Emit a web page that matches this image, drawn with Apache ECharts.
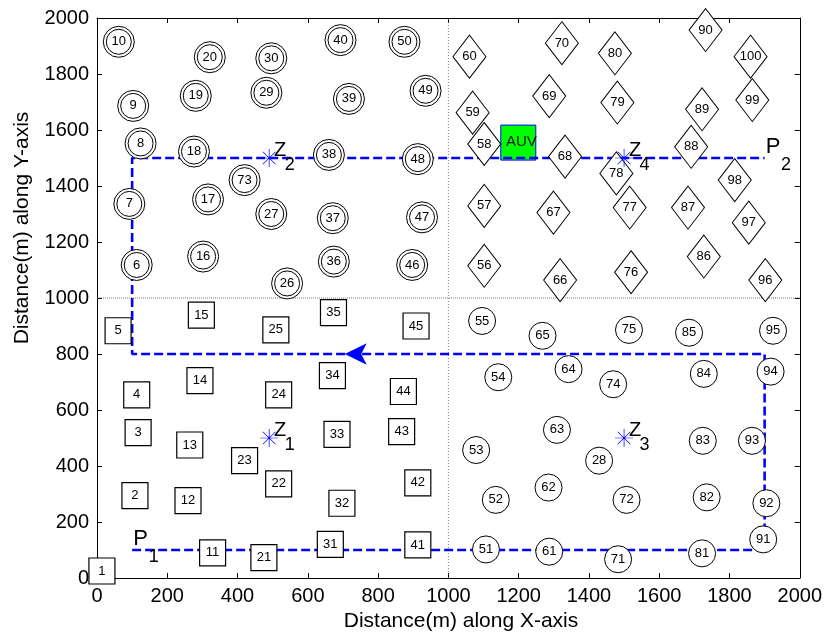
<!DOCTYPE html>
<html>
<head>
<meta charset="utf-8">
<script src="https://cdn.jsdelivr.net/npm/echarts@6/dist/echarts.min.js"></script>
<style>
html,body{margin:0;padding:0;background:#fff;}
#chart{width:825px;height:642px;}
</style>
</head>
<body>
<div id="chart"></div>
<script>
// ---- data ----
// square nodes (lower-left quadrant)
const squareIds = [1,2,3,4,5,11,12,13,14,15,21,22,23,24,25,31,32,33,34,35,41,42,43,44,45];
const squareX   = [14,108,117,113,60,329,259,264,293,297,475,517,420,517,509,664,697,683,670,673,913,913,867,872,908];
const squareY   = [25,294,519,654,883,90,276,475,705,939,73,336,419,654,886,120,267,513,723,948,118,340,523,666,900];
// double-circle nodes (upper-left quadrant)
const dcircleIds = [6,7,8,9,10,16,17,18,19,20,26,27,29,30,36,37,38,39,40,46,47,48,49,50,73];
const dcircleX   = [113,92,124,103,62,302,316,276,281,321,541,496,482,496,674,671,660,717,693,897,925,913,935,875,420];
const dcircleY   = [1118,1336,1552,1686,1915,1148,1352,1523,1722,1860,1052,1300,1733,1856,1130,1285,1511,1711,1921,1118,1288,1496,1740,1915,1421];
// circle nodes (lower-right quadrant)
const circleIds = [28,51,52,53,54,55,61,62,63,64,65,71,72,74,75,81,82,83,84,85,91,92,93,94,95];
const circleX   = [1429,1107,1135,1079,1142,1096,1287,1285,1309,1342,1268,1483,1507,1469,1514,1722,1735,1724,1727,1685,1896,1905,1864,1917,1924];
const circleY   = [419,102,279,457,717,918,94,323,529,746,865,67,279,692,886,88,288,490,729,876,138,267,490,737,883];
// diamond nodes (upper-right quadrant)
const diamondIds = [56,57,58,59,60,66,67,68,69,70,76,77,78,79,80,86,87,88,89,90,96,97,98,99,100];
const diamondX   = [1102,1102,1102,1069,1060,1318,1299,1332,1287,1323,1520,1516,1478,1481,1474,1727,1682,1691,1722,1732,1902,1855,1815,1865,1860];
const diamondY   = [1115,1329,1550,1662,1862,1064,1305,1505,1721,1910,1092,1323,1445,1698,1874,1148,1323,1540,1674,1957,1064,1269,1421,1707,1862];
// AUV trajectory
const pathX = [100,1900,1900,100,100,1900];
const pathY = [100,100,800,800,1500,1500];
const arrowX = [705];
const arrowY = [800];
// cluster heads
const zNames = ['1','2','3','4'];
const zX = [490,490,1500,1500];
const zY = [500,1500,500,1500];
// start / end points
const pNames = ['1','2'];
const pX = [100,1900];
const pY = [100,1500];
// AUV
const auvX = [1199];
const auvY = [1555];
// quadrant dividers
const divV = [[1000,0],[1000,2000]];
const divH = [[0,1000],[2000,1000]];
// axis ticks
const axMin = 0, axMax = 2000, axStep = 200;

// ---- helpers ----
const FONT = 'Liberation Sans, Arial, sans-serif';
function pts(xs, ys, ids){ return xs.map((x,i)=>({value:[x, ys[i]], name: ids ? String(ids[i]) : ''})); }
const nodeLabel = {show:true, position:'inside', formatter:'{b}', color:'#000', fontSize:13, fontFamily:FONT, opacity:1};
const starPath = 'path://M-4,-100L4,-100L4,100L-4,100Z M-100,-4L100,-4L100,4L-100,4Z M-67.9,-73.5L73.5,67.9L67.9,73.5L-73.5,-67.9Z M-73.5,67.9L67.9,-73.5L73.5,-67.9L-67.9,73.5Z';
function txtLabel(fmt, off, size){
  return {show:true, position:'right', distance:0, align:'center', verticalAlign:'middle',
    formatter:fmt, offset:off, color:'#000', fontSize:size,
    fontFamily:FONT, opacity:1, textBorderWidth:0};
}

const chart = echarts.init(document.getElementById('chart'), null, {renderer:'canvas'});
const axisCommon = {
  type:'value', min:axMin, max:axMax, interval:axStep,
  axisLine:{show:true, onZero:false, lineStyle:{color:'#000', width:1}},
  axisTick:{show:true, inside:true, length:5, lineStyle:{color:'#000'}},
  splitLine:{show:false}
};
const tickLabel = {color:'#000', fontSize:20, fontFamily:FONT, margin:8, formatter:(v)=>String(v)};
chart.setOption({
  backgroundColor:'#fff',
  animation:false,
  grid:{left:97, top:18, right:24, bottom:64, containLabel:false},
  xAxis:[
    Object.assign({}, axisCommon, {position:'bottom', axisLabel:tickLabel}),
    Object.assign({}, axisCommon, {position:'top', axisLabel:{show:false}})
  ],
  yAxis:[
    Object.assign({}, axisCommon, {position:'left', axisLabel:tickLabel}),
    Object.assign({}, axisCommon, {position:'right', axisLabel:{show:false}})
  ],
  graphic:[
    {type:'text', x:461, y:621, style:{text:'Distance(m) along X-axis', fill:'#000', font:'21px '+FONT, textAlign:'center', textVerticalAlign:'middle'}},
    {type:'text', rotation:Math.PI/2, x:22, y:228, style:{text:'Distance(m) along Y-axis', fill:'#000', font:'21px '+FONT, textAlign:'center', textVerticalAlign:'middle'}}
  ],
  series:[
    {type:'line', data:divV, symbol:'none', silent:true, z:1,
      lineStyle:{color:'#555', width:0.8, type:[1,2]}},
    {type:'line', data:divH, symbol:'none', silent:true, z:1,
      lineStyle:{color:'#555', width:0.8, type:[1,1]}},
    {type:'scatter', z:1, data:pts(auvX, auvY, ['AUV']), symbol:'rect', symbolSize:[35,35],
      itemStyle:{color:'#00ff00', borderColor:'#0000ff', borderWidth:1, opacity:1},
      label:{show:true, position:'inside', formatter:'{b}', color:'#111', fontSize:15, fontFamily:FONT, offset:[3,-1], opacity:1}},
    {type:'line', z:2, data:pathX.map((x,i)=>[x,pathY[i]]), symbol:'none',
      lineStyle:{color:'#0000ff', width:2.6, type:[9,4]}},
    {type:'scatter', z:2, data:pts(arrowX, arrowY), symbol:'arrow', symbolSize:[16,22], symbolRotate:90,
      itemStyle:{color:'#0000ff', opacity:1}},
    {type:'scatter', z:3, data:pts(squareX, squareY, squareIds), symbol:'rect', symbolSize:[26,26],
      itemStyle:{color:'#fff', borderColor:'#000', borderWidth:1.2, opacity:1}, label:nodeLabel},
    {type:'scatter', z:3, data:pts(dcircleX, dcircleY, dcircleIds), symbol:'circle', symbolSize:31,
      itemStyle:{color:'#fff', borderColor:'#000', borderWidth:1, opacity:1}},
    {type:'scatter', z:3, data:pts(dcircleX, dcircleY, dcircleIds), symbol:'circle', symbolSize:25,
      itemStyle:{color:'#fff', borderColor:'#000', borderWidth:1, opacity:1}, label:nodeLabel},
    {type:'scatter', z:3, data:pts(circleX, circleY, circleIds), symbol:'circle', symbolSize:27,
      itemStyle:{color:'#fff', borderColor:'#000', borderWidth:1, opacity:1}, label:nodeLabel},
    {type:'scatter', z:3, data:pts(diamondX, diamondY, diamondIds), symbol:'diamond', symbolSize:[33,43],
      itemStyle:{color:'#fff', borderColor:'#000', borderWidth:1, opacity:1}, label:nodeLabel},
    {type:'scatter', z:4, data:pts(zX, zY, zNames), symbol:starPath, symbolSize:18,
      itemStyle:{color:'#0000ff', opacity:1}, label:txtLabel('Z', [2,-8], 20)},
    {type:'scatter', z:4, data:pts(zX, zY, zNames), symbol:'circle', symbolSize:1,
      itemStyle:{color:'rgba(0,0,0,0)', opacity:1}, label:txtLabel('{b}', [20,7], 18)},
    {type:'scatter', z:4, data:pts(pX, pY, pNames), symbol:'circle', symbolSize:1,
      itemStyle:{color:'rgba(0,0,0,0)', opacity:1}, label:txtLabel('P', [8,-11], 22)},
    {type:'scatter', z:4, data:pts(pX, pY, pNames), symbol:'circle', symbolSize:1,
      itemStyle:{color:'rgba(0,0,0,0)', opacity:1}, label:txtLabel('{b}', [21,7], 18)}
  ]
});
</script>
</body>
</html>
